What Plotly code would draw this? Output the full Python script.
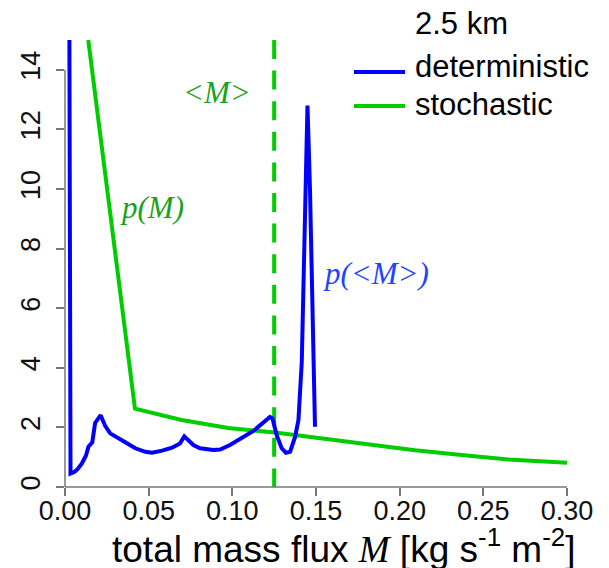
import plotly.graph_objects as go

# Deterministic run: probability density of total mass flux
det_m = [0.0024, 0.0033, 0.0055, 0.0075, 0.0100, 0.0125, 0.0140, 0.0163, 0.0180,
         0.0213, 0.0240, 0.0270, 0.0340, 0.0420, 0.0480, 0.0520, 0.0580, 0.0640,
         0.0687, 0.0713, 0.0767, 0.0807, 0.0887, 0.0927, 0.0986, 0.1046, 0.1126,
         0.1225, 0.1240, 0.1265, 0.1295, 0.1320, 0.1345, 0.1375, 0.1395, 0.1415,
         0.1449, 0.1464, 0.1494]
det_p = [20.0, 0.45, 0.50, 0.60, 0.78, 1.05, 1.35, 1.50, 2.15,
         2.41, 2.05, 1.80, 1.57, 1.30, 1.18, 1.15, 1.22, 1.32,
         1.46, 1.70, 1.41, 1.30, 1.24, 1.26, 1.41, 1.60, 1.88,
         2.35, 2.30, 1.74, 1.30, 1.15, 1.18, 1.68, 2.24, 4.20,
         12.8, 10.0, 2.02]

# Stochastic run
sto_m = [0.0139, 0.0418, 0.0697, 0.0976, 0.1255, 0.1534, 0.1813, 0.2092,
         0.2371, 0.2650, 0.3000]
sto_p = [15.0, 2.63, 2.25, 1.98, 1.83, 1.62, 1.42, 1.23, 1.07, 0.92, 0.81]

# Mean mass flux <M>
mean_m = 0.125

x_ticks = [0.00, 0.05, 0.10, 0.15, 0.20, 0.25, 0.30]
y_ticks = [0, 2, 4, 6, 8, 10, 12, 14]
x_range = [0.0, 0.30]
y_range = [0.0, 15.0]

BLUE = "#0000ff"
GREEN = "#00cd00"
TXT_GREEN = "#1aa31a"
TXT_BLUE = "#2244ff"
AXIS_GREY = "#777777"

W, H = 609, 568
L, R, T, B = 65, 42, 40, 81
pw, ph = W - L - R, H - T - B


def px(xp):
    return (xp - L) / pw


def py(yp):
    return (H - B - yp) / ph


fig = go.Figure()

fig.add_trace(go.Scatter(x=[mean_m, mean_m], y=[y_range[1], y_range[0]], mode="lines",
                         line=dict(color=GREEN, width=4, dash="19px,11.6px"),
                         showlegend=False, hoverinfo="skip"))
fig.add_trace(go.Scatter(x=sto_m, y=sto_p, mode="lines", name="stochastic",
                         line=dict(color=GREEN, width=4), showlegend=False))
fig.add_trace(go.Scatter(x=det_m, y=det_p, mode="lines", name="deterministic",
                         line=dict(color=BLUE, width=4), showlegend=False))

tick_font = dict(family="Liberation Sans, Arial, sans-serif", size=27, color="#111111")

fig.update_xaxes(range=x_range, tickvals=x_ticks, tickformat=".2f",
                 ticks="outside", ticklen=8, tickwidth=1.5, tickcolor=AXIS_GREY,
                 showgrid=False, zeroline=False, showline=False,
                 tickfont=tick_font, ticklabelstandoff=-8)
fig.update_yaxes(range=y_range, tickvals=y_ticks, tickangle=-90,
                 ticks="outside", ticklen=8, tickwidth=1.5, tickcolor=AXIS_GREY,
                 showgrid=False, zeroline=False, showline=False,
                 tickfont=tick_font, ticklabelstandoff=5)

# Axis lines span only the labelled tick range
fig.add_shape(type="line", xref="paper", yref="paper",
              x0=0, x1=0, y0=0, y1=y_ticks[-1] / y_range[1],
              line=dict(color=AXIS_GREY, width=1.5))
fig.add_shape(type="line", xref="paper", yref="paper",
              x0=0, x1=1, y0=0, y1=0,
              line=dict(color=AXIS_GREY, width=1.5))

# Legend
leg_font = dict(family="Liberation Sans, Arial, sans-serif", size=31, color="#000000")
fig.add_annotation(text="2.5 km", xref="paper", yref="paper", x=px(413), y=py(24),
                   xanchor="left", yanchor="middle", showarrow=False, font=leg_font)
for label, col, yl, yt in [("deterministic", BLUE, 72, 66), ("stochastic", GREEN, 106, 105)]:
    fig.add_shape(type="line", xref="paper", yref="paper",
                  x0=px(354), x1=px(405), y0=py(yl), y1=py(yl),
                  line=dict(color=col, width=4))
    fig.add_annotation(text=label, xref="paper", yref="paper", x=px(413), y=py(yt),
                       xanchor="left", yanchor="middle", showarrow=False, font=leg_font)

# Curve labels
serif_it = dict(family="Liberation Serif, Times New Roman, serif", size=31, style="italic")
fig.add_annotation(text="&lt;M&gt;", xref="paper", yref="paper", x=px(217), y=py(92),
                   xanchor="center", yanchor="middle", showarrow=False,
                   font=dict(serif_it, color=TXT_GREEN))
fig.add_annotation(text="p(M)", xref="paper", yref="paper", x=px(152), y=py(207),
                   xanchor="center", yanchor="middle", showarrow=False,
                   font=dict(serif_it, color=TXT_GREEN))
fig.add_annotation(text="p(&lt;M&gt;)", xref="paper", yref="paper", x=px(376), y=py(273),
                   xanchor="center", yanchor="middle", showarrow=False,
                   font=dict(serif_it, color=TXT_BLUE))

# X-axis title
fig.add_annotation(
    text="total mass flux <span style=\"font-family:Liberation Serif;font-style:italic\">M</span>"
         " [kg s<sup>-1</sup> m<sup>-2</sup>]",
    xref="paper", yref="paper", x=px(343), y=py(546),
    xanchor="center", yanchor="middle", showarrow=False,
    font=dict(family="Liberation Sans, Arial, sans-serif", size=37, color="#000000"))

fig.update_layout(width=W, height=H, margin=dict(l=L, r=R, t=T, b=B),
                  paper_bgcolor="white", plot_bgcolor="white", showlegend=False)

fig.write_html("out.html")
